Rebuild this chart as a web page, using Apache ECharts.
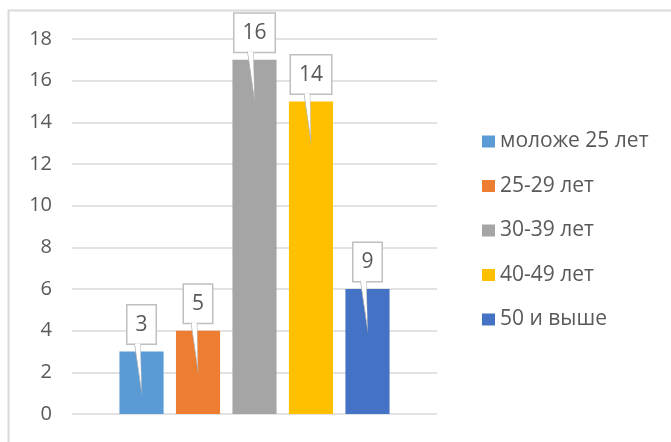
<!DOCTYPE html>
<html>
<head>
<meta charset="utf-8">
<script src="https://cdn.jsdelivr.net/npm/echarts@6/dist/echarts.min.js"></script>
<style>
html,body{margin:0;padding:0;background:#fff;}
#chart{width:671px;height:442px;}
</style>
</head>
<body>
<div id="chart"></div>
<script>
// Data
const xCategory = [''];
const seriesNames = ['моложе 25 лет', '25-29 лет', '30-39 лет', '40-49 лет', '50 и выше'];
const barValues = [3, 4, 17, 15, 6];
const labelTexts = ['3', '5', '16', '14', '9'];
const yMin = 0, yMax = 18, yInterval = 2;

const colors = ['#5B9BD5', '#ED7D31', '#A5A5A5', '#FFC000', '#4472C4'];
const FONT = 'Open Sans';
const TEXT = '#595959';

const chart = echarts.init(document.getElementById('chart'), null, {renderer: 'canvas'});

const series = seriesNames.map((name, i) => ({
  name: name,
  type: 'bar',
  barGap: '28%',
  barCategoryGap: '26%',
  data: [barValues[i]],
  itemStyle: {color: colors[i]},
  label: {
    show: true,
    position: 'top',
    distance: 8,
    formatter: () => labelTexts[i],
    fontFamily: FONT,
    fontSize: 21,
    color: TEXT,
    lineHeight: 25,
    backgroundColor: '#ffffff',
    borderColor: '#BFBFBF',
    borderWidth: 1.5,
    padding: [7, 8, 6, 8]
  },
  markPoint: {
    silent: true,
    symbol: 'path://M0,0 L7,48 L6,0',
    symbolSize: [7, 48],
    symbolKeepAspect: false,
    symbolOffset: [-3.5, 16],
    itemStyle: {color: '#ffffff', borderColor: '#B0B0B0', borderWidth: 1.3},
    label: {show: false},
    data: [{coord: [0, barValues[i]]}]
  }
}));

chart.setOption({
  animation: false,
  color: colors,
  graphic: [{
    type: 'rect',
    shape: {x: 8.5, y: 10.5, width: 800, height: 600},
    style: {fill: 'none', stroke: '#D9D9D9', lineWidth: 2},
    silent: true
  }],
  grid: {left: 72, right: 234, top: 39, bottom: 28, containLabel: false},
  legend: {
    orient: 'vertical',
    left: 477,
    top: 126,
    itemWidth: 13,
    itemHeight: 12,
    itemGap: 23.5,
    icon: 'rect',
    textStyle: {fontFamily: FONT, fontSize: 21, color: TEXT, lineHeight: 20},
    data: seriesNames
  },
  xAxis: {
    type: 'category',
    data: xCategory,
    axisLine: {show: false},
    axisTick: {show: false},
    axisLabel: {show: false}
  },
  yAxis: {
    type: 'value',
    min: yMin,
    max: yMax,
    interval: yInterval,
    axisLine: {show: false},
    axisTick: {show: false},
    axisLabel: {fontFamily: FONT, fontSize: 20, color: TEXT, margin: 20},
    splitLine: {lineStyle: {color: '#D9D9D9', width: 1.5}}
  },
  series: series
});
</script>
</body>
</html>
